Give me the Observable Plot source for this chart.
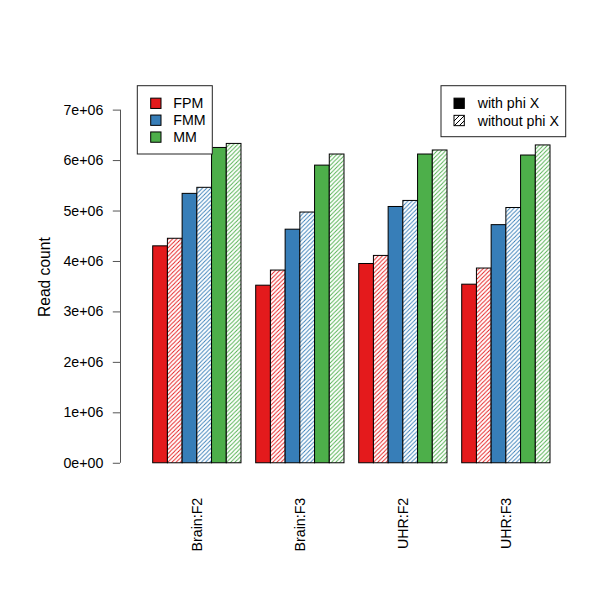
<!DOCTYPE html>
<html>
<head>
<meta charset="utf-8">
<script src="https://cdn.jsdelivr.net/npm/d3@7"></script>
<script src="https://cdn.jsdelivr.net/npm/@observablehq/plot@0.6"></script>
<style>
  html, body { margin: 0; padding: 0; background: white; overflow: hidden; }
  #wrap { position: relative; width: 600px; height: 600px; font-family: "Liberation Sans", Arial, Helvetica, sans-serif; }
  #overlay { position: absolute; left: 0; top: 0; pointer-events: none; }
</style>
</head>
<body>
<div id="wrap"></div>
<script>
// ---- data ----
const groups = ["Brain:F2", "Brain:F3", "UHR:F2", "UHR:F3"];
const methods = ["FPM", "FMM", "MM"];
const colors = ["#E41A1C", "#377EB8", "#4DAF4A"];
const phiLabels = ["with phi X", "without phi X"];
const fpmWith    = [4.30e6, 3.52e6, 3.95e6, 3.54e6];
const fpmWithout = [4.45e6, 3.82e6, 4.11e6, 3.86e6];
const fmmWith    = [5.34e6, 4.63e6, 5.08e6, 4.72e6];
const fmmWithout = [5.46e6, 4.97e6, 5.20e6, 5.06e6];
const mmWith     = [6.25e6, 5.90e6, 6.12e6, 6.10e6];
const mmWithout  = [6.33e6, 6.12e6, 6.20e6, 6.30e6];
const yTicks = [0, 1e6, 2e6, 3e6, 4e6, 5e6, 6e6, 7e6];
const yLabel = "Read count";

// ---- table ----
const series = [
  [fpmWith, fpmWithout],
  [fmmWith, fmmWithout],
  [mmWith, mmWithout]
];
const rows = [];
groups.forEach((g, gi) => {
  methods.forEach((m, mi) => {
    [0, 1].forEach(pi => {
      const slot = 1 + 7 * gi + 2 * mi + pi;
      rows.push({group: g, method: m, mi, without: pi === 1, value: series[mi][pi][gi], x1: slot, x2: slot + 1});
    });
  });
});
const nSlots = 7 * groups.length;           // bars span 1..28
const span = nSlots - 1;
const xDomain = [1 - 0.04 * span, nSlots + 0.04 * span];
const yMax = 7.2e6;
const yDomain = [-0.04 * yMax, yMax * 1.04];
const centers = groups.map((g, i) => 4 + 7 * i);

const sci = d => {
  let [m, e] = d.toExponential(0).split("e");
  const sign = e[0];
  e = e.slice(1).padStart(2, "0");
  return `${m}e${sign}${e}`;
};

const axisShift = -16.8;
const marks = [];
methods.forEach((m, mi) => {
  marks.push(Plot.rectY(rows.filter(d => d.mi === mi && !d.without),
    {x1: "x1", x2: "x2", y1: 0, y2: "value", fill: colors[mi], stroke: "black", strokeWidth: 1}));
  marks.push(Plot.rectY(rows.filter(d => d.mi === mi && d.without),
    {x1: "x1", x2: "x2", y1: 0, y2: "value", fill: `url(#hatchbar${mi})`, stroke: "black", strokeWidth: 1}));
});
marks.push(
  Plot.ruleX([xDomain[0]], {y1: yTicks[0], y2: yTicks[yTicks.length - 1], dx: axisShift, stroke: "#555", strokeWidth: 1}),
  Plot.axisY(yTicks, {tickFormat: sci, tickSize: 7.2, tickPadding: 10, dx: axisShift, stroke: "#555", fill: "black", label: null}),
  Plot.axisX(centers, {tickFormat: d => groups[(d - 4) / 7], tickSize: 0, tickPadding: 20, tickRotate: -90, fill: "black", label: null}),
  Plot.text([yLabel], {text: d => d, frameAnchor: "left", textAnchor: "middle", rotate: -90, dx: -92.3, dy: -4.5, fill: "black", fontSize: 15.6})
);

const svg = Plot.plot({
  width: 600,
  height: 600,
  marginLeft: 136.8,
  marginRight: 34.1,
  marginTop: 85,
  marginBottom: 122.7,
  style: {fontFamily: '"Liberation Sans", Arial, Helvetica, sans-serif', fontSize: "14.2px", background: "white"},
  x: {type: "linear", domain: xDomain, label: null, axis: null},
  y: {domain: yDomain, label: null, axis: null},
  marks
});

// hatch patterns
const NS = "http://www.w3.org/2000/svg";
function makePattern(id, color, size, sw) {
  const p = document.createElementNS(NS, "pattern");
  p.setAttribute("id", id);
  p.setAttribute("patternUnits", "userSpaceOnUse");
  p.setAttribute("width", size);
  p.setAttribute("height", size);
  const r = document.createElementNS(NS, "rect");
  r.setAttribute("width", size); r.setAttribute("height", size);
  r.setAttribute("fill", "white");
  r.style.fill = "white";
  r.style.stroke = "none";
  const path = document.createElementNS(NS, "path");
  const s = size;
  path.setAttribute("d", `M${-s/4},${s/4} L${s/4},${-s/4} M0,${s} L${s},0 M${3*s/4},${5*s/4} L${5*s/4},${3*s/4}`);
  path.setAttribute("stroke", color);
  path.setAttribute("fill", "none");
  path.setAttribute("stroke-width", sw);
  path.style.stroke = color;
  path.style.fill = "none";
  path.style.strokeWidth = sw + "px";
  p.appendChild(r); p.appendChild(path);
  return p;
}
const defs = document.createElementNS(NS, "defs");
colors.forEach((c, i) => defs.appendChild(makePattern(`hatchbar${i}`, c, 4.2, 0.9)));
svg.insertBefore(defs, svg.firstChild);

const wrap = document.getElementById("wrap");
wrap.appendChild(svg);

// legends (overlay)
const ov = document.createElementNS(NS, "svg");
ov.setAttribute("id", "overlay");
ov.setAttribute("width", 600);
ov.setAttribute("height", 600);
const odefs = document.createElementNS(NS, "defs");
odefs.appendChild(makePattern("hatchlegend", "#000000", 5, 1));
ov.appendChild(odefs);
function el(tag, attrs, text) {
  const e = document.createElementNS(NS, tag);
  for (const k in attrs) e.setAttribute(k, attrs[k]);
  if (text != null) e.textContent = text;
  ov.appendChild(e);
  return e;
}
const font = '"Liberation Sans", Arial, Helvetica, sans-serif';
// left legend
el("rect", {x: 137.3, y: 85.7, width: 75, height: 68.3, fill: "white", stroke: "#222", "stroke-width": 1});
methods.forEach((m, i) => {
  const cy = 103.3 + i * 16.9;
  el("rect", {x: 150.7, y: cy - 5.15, width: 10.3, height: 10.3, fill: colors[i], stroke: "black", "stroke-width": 1});
  el("text", {x: 173.3, y: cy, "dominant-baseline": "central", "font-family": font, "font-size": "14.2px", fill: "black"}, m);
});
// right legend
el("rect", {x: 441, y: 85.7, width: 124.7, height: 51, fill: "white", stroke: "#222", "stroke-width": 1});
phiLabels.forEach((t, i) => {
  const cy = 103.3 + i * 17.2;
  el("rect", {x: 454, y: cy - 5.15, width: 10.3, height: 10.3, fill: i === 0 ? "black" : "url(#hatchlegend)", stroke: "black", "stroke-width": 1});
  el("text", {x: 477.7, y: cy, "dominant-baseline": "central", "font-family": font, "font-size": "14.2px", fill: "black"}, t);
});
wrap.appendChild(ov);
</script>
</body>
</html>
